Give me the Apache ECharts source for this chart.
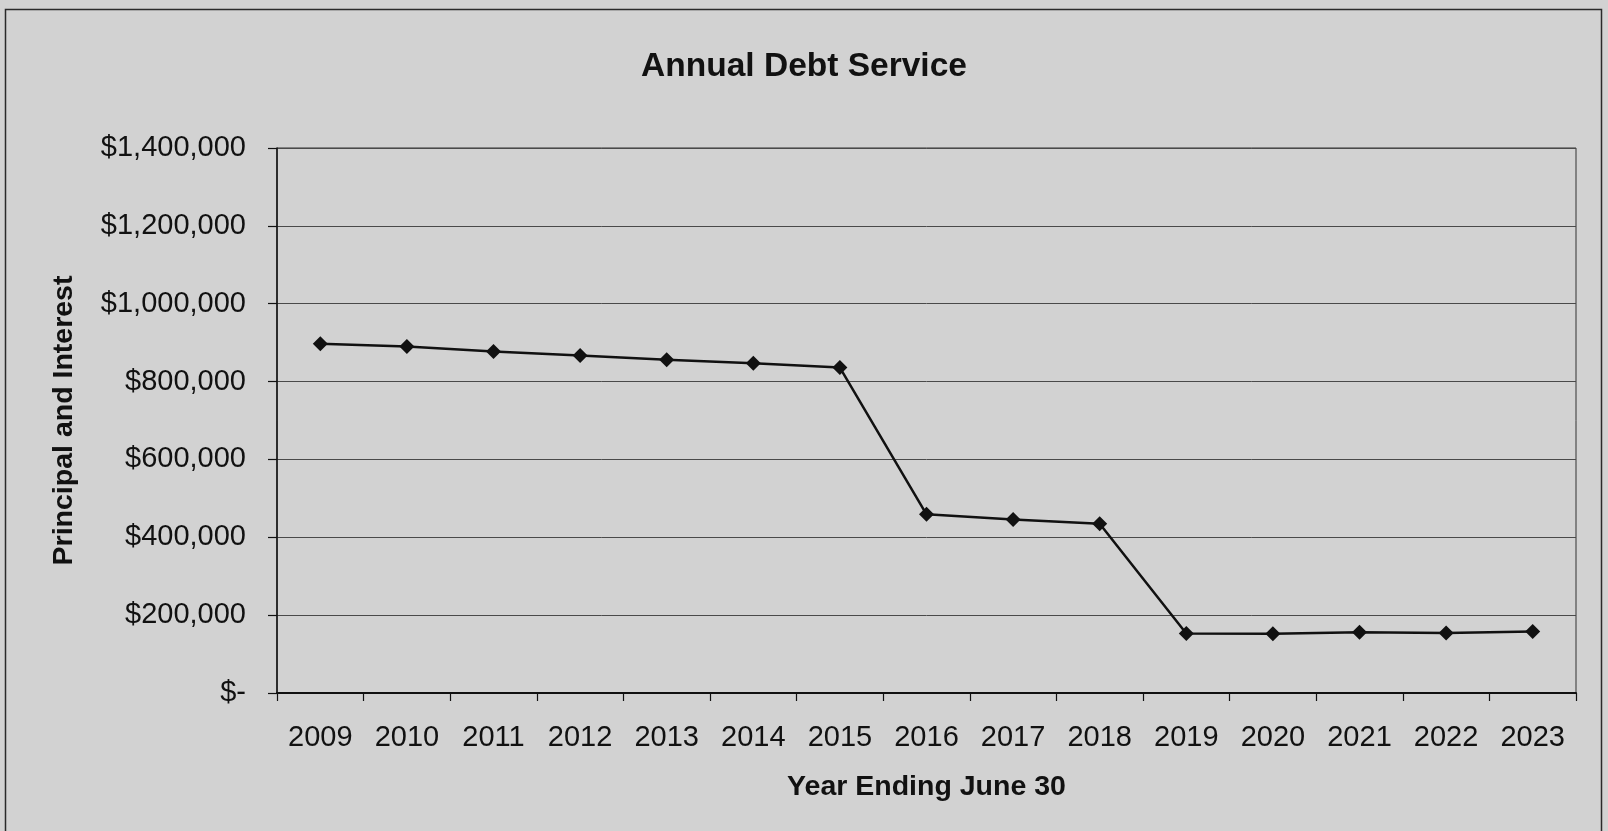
<!DOCTYPE html>
<html>
<head>
<meta charset="utf-8">
<title>Annual Debt Service</title>
<script src="https://cdn.jsdelivr.net/npm/echarts@6/dist/echarts.min.js"></script>
<style>
  html, body { margin: 0; padding: 0; background: #d2d2d2; }
  #chart { width: 1608px; height: 831px; }
</style>
</head>
<body>
<div id="chart"></div>
<script>
// Fiscal years (ending June 30)
const years = ['2009', '2010', '2011', '2012', '2013', '2014', '2015', '2016',
               '2017', '2018', '2019', '2020', '2021', '2022', '2023'];

// Principal and interest paid each year, in dollars
const debtService = [897000, 890000, 877000, 867000, 856000, 847000, 836000, 459000,
                     446000, 435000, 153000, 152000, 156000, 154000, 158000];

// Value axis range and step
const yMin = 0;
const yMax = 1400000;
const yStep = 200000;

const FONT = '"Liberation Sans", Arial, sans-serif';

function money(v) {
  if (v === 0) return '$-';
  return '$' + v.toLocaleString('en-US');
}

const chart = echarts.init(document.getElementById('chart'), null, { renderer: 'canvas' });

chart.setOption({
  animation: false,
  backgroundColor: '#d2d2d2',
  title: {
    text: 'Annual Debt Service',
    left: 'center',
    top: 50,
    padding: 0,
    textStyle: { fontFamily: FONT, fontSize: 33.5, fontWeight: 'bold', color: '#111' }
  },
  graphic: [{
    type: 'rect',
    silent: true,
    shape: { x: 5.5, y: 9.5, width: 1596, height: 840 },
    style: { fill: 'none', stroke: '#2a2a2a', lineWidth: 1.5 }
  }],
  grid: {
    left: 277, right: 32, top: 148, bottom: 138,
    show: true,
    borderColor: '#333',
    borderWidth: 1,
    backgroundColor: 'transparent'
  },
  xAxis: {
    type: 'category',
    data: years,
    boundaryGap: true,
    name: 'Year Ending June 30',
    nameLocation: 'middle',
    nameGap: 80,
    nameTextStyle: { fontFamily: FONT, fontSize: 28.5, fontWeight: 'bold', color: '#111' },
    axisLine: { show: true, lineStyle: { color: '#111', width: 2 } },
    axisTick: { show: true, alignWithLabel: false, length: 8, lineStyle: { color: '#111', width: 1.2 } },
    axisLabel: { fontFamily: FONT, fontSize: 29, color: '#111', margin: 30, interval: 0 },
    splitLine: { show: false }
  },
  yAxis: {
    type: 'value',
    min: yMin,
    max: yMax,
    interval: yStep,
    name: 'Principal and Interest',
    nameLocation: 'middle',
    nameGap: 198,
    nameTextStyle: { fontFamily: FONT, fontSize: 28.5, fontWeight: 'bold', color: '#111' },
    axisLine: { show: true, lineStyle: { color: '#111', width: 1.5 } },
    axisTick: { show: true, length: 9, lineStyle: { color: '#111', width: 1.2 } },
    axisLabel: { fontFamily: FONT, fontSize: 29, color: '#111', margin: 31, formatter: money },
    splitLine: { show: true, lineStyle: { color: '#4a4a4a', width: 1 } }
  },
  series: [{
    type: 'line',
    data: debtService,
    symbol: 'diamond',
    symbolSize: 15,
    lineStyle: { color: '#111', width: 2.5 },
    itemStyle: { color: '#111' }
  }]
});
</script>
</body>
</html>
